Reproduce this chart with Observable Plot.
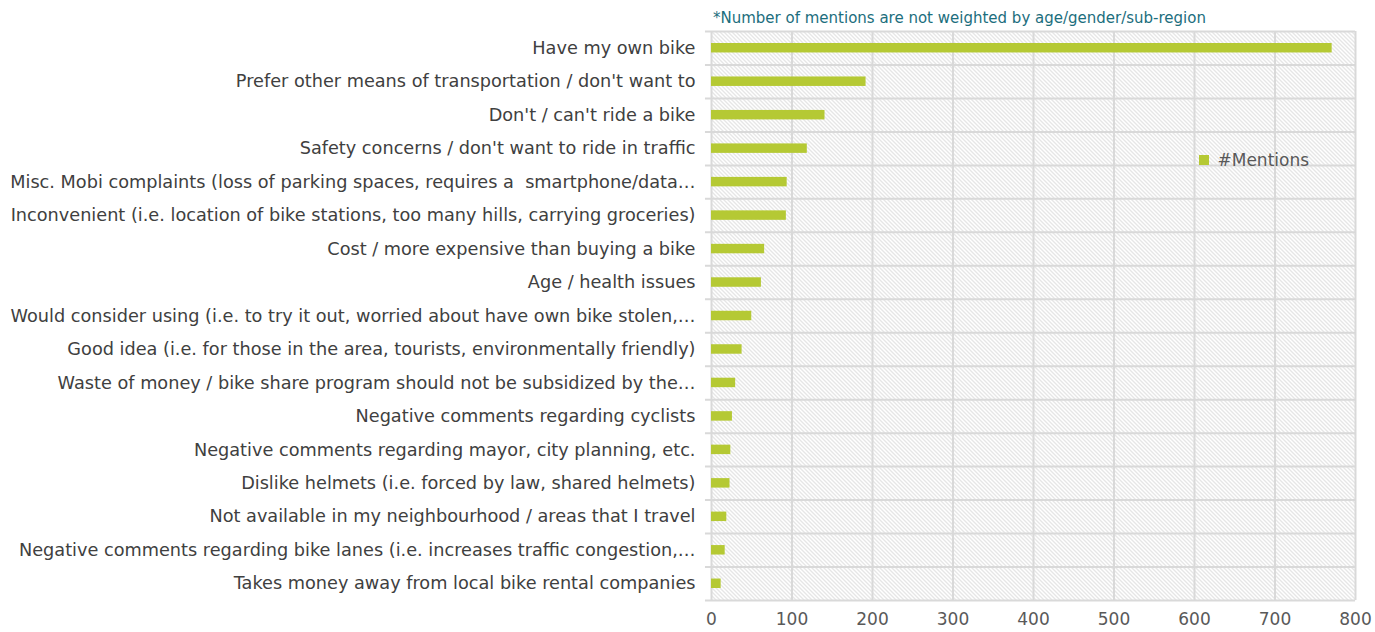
<!DOCTYPE html>
<html>
<head>
<meta charset="utf-8">
<script src="https://cdn.jsdelivr.net/npm/d3@7"></script>
<script src="https://cdn.jsdelivr.net/npm/@observablehq/plot@0.6"></script>
<style>
  html, body { margin: 0; padding: 0; background: #ffffff; }
  #wrap { position: relative; width: 1375px; height: 632px; font-family: "DejaVu Sans", sans-serif; }
  #note { position: absolute; left: 713px; top: 9px; font-size: 15px; color: #1c6e7d; white-space: nowrap; }
  #legend { position: absolute; left: 1199px; top: 143px; }
</style>
</head>
<body>
<div id="wrap">
  <div id="note">*Number of mentions are not weighted by age/gender/sub-region</div>
  <div id="legend"></div>
</div>
<script>
const categories = [
  "Have my own bike",
  "Prefer other means of transportation / don't want to",
  "Don't / can't ride a bike",
  "Safety concerns / don't want to ride in traffic",
  "Misc. Mobi complaints (loss of parking spaces, requires a  smartphone/data…",
  "Inconvenient (i.e. location of bike stations, too many hills, carrying groceries)",
  "Cost / more expensive than buying a bike",
  "Age / health issues",
  "Would consider using (i.e. to try it out, worried about have own bike stolen,…",
  "Good idea (i.e. for those in the area, tourists, environmentally friendly)",
  "Waste of money / bike share program should not be subsidized by the…",
  "Negative comments regarding cyclists",
  "Negative comments regarding mayor, city planning, etc.",
  "Dislike helmets (i.e. forced by law, shared helmets)",
  "Not available in my neighbourhood / areas that I travel",
  "Negative comments regarding bike lanes (i.e. increases traffic congestion,…",
  "Takes money away from local bike rental companies"
];
const mentions = [771, 192, 141, 119, 94, 93, 66, 62, 50, 38, 30, 26, 24, 23, 19, 17, 12];
const xTicks = [0, 100, 200, 300, 400, 500, 600, 700, 800];
const seriesName = "#Mentions";
const barColor = "#b5c934";

const W = 1375, H = 632, mT = 31, mB = 32, mL = 711, mR = 20;
const bw = (H - mT - mB) / categories.length;
const data = categories.map((c, i) => ({category: c, value: mentions[i]}));
const lastCat = [categories[categories.length - 1]];
const font = "'DejaVu Sans', sans-serif";

const chart = Plot.plot({
  width: W, height: H,
  marginTop: mT, marginBottom: mB, marginLeft: mL, marginRight: mR,
  style: {fontFamily: font, background: "transparent", overflow: "visible"},
  x: {domain: [0, 800]},
  y: {domain: categories, padding: 0, round: false},
  marks: [
    Plot.frame({fill: "url(#hatch)", stroke: "none"}),
    Plot.ruleX(xTicks, {stroke: "#d9d9d9", strokeWidth: 2}),
    Plot.ruleY(categories, {y: d => d, x1: -7.5, x2: 800, dy: -bw / 2, stroke: "#d9d9d9", strokeWidth: 2}),
    Plot.ruleY(lastCat, {y: d => d, x1: -7.5, x2: 800, dy: bw / 2, stroke: "#d9d9d9", strokeWidth: 2}),
    Plot.barX(data, {y: "category", x: "value", fill: barColor, insetTop: 12, insetBottom: 12}),
    Plot.axisY({tickSize: 0, tickPadding: 16, fontSize: 17.7, color: "#404040", label: null}),
    Plot.axisX({ticks: xTicks, tickSize: 0, tickPadding: 12, fontSize: 17, color: "#595959", label: null})
  ]
});

const ns = "http://www.w3.org/2000/svg";
const defs = document.createElementNS(ns, "defs");
defs.innerHTML = `<pattern id="hatch" patternUnits="userSpaceOnUse" width="4" height="4">
  <rect width="4" height="4" fill="#ffffff"/>
  <path d="M0,0 L4,4 M-1,3 L1,5 M3,-1 L5,1" stroke="#cdcdcd" stroke-width="1"/>
</pattern>`;
chart.insertBefore(defs, chart.firstChild);
chart.style.position = "absolute";
chart.style.left = "0px";
chart.style.top = "0px";
const wrap = document.getElementById("wrap");
wrap.insertBefore(chart, wrap.firstChild);

const leg = Plot.legend({
  color: {domain: [seriesName], range: [barColor]},
  swatchSize: 10,
  style: {fontSize: "17px", fontFamily: font, color: "#595959"}
});
document.getElementById("legend").appendChild(leg);
</script>
</body>
</html>
